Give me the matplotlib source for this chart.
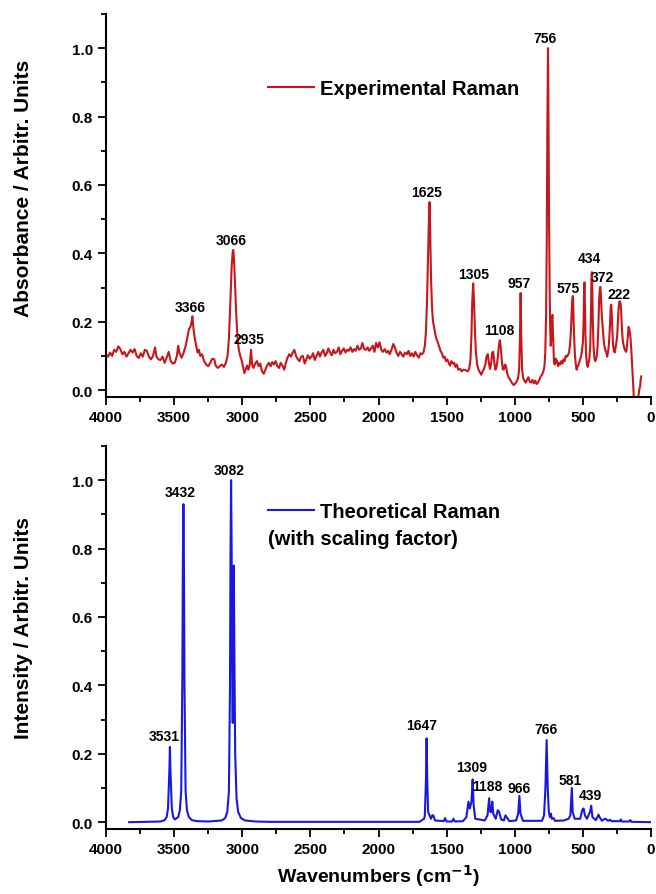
import matplotlib
matplotlib.use("Agg")
import matplotlib.pyplot as plt
from matplotlib.ticker import MultipleLocator, FormatStrFormatter

plt.rcParams['font.family'] = ['Liberation Sans', 'DejaVu Sans']
plt.rcParams['font.weight'] = 'bold'

# experimental Raman spectrum (wavenumber, intensity)
exp_wn = [4000, 3985, 3970, 3955, 3940, 3925, 3910, 3895, 3880, 3865, 3850, 3835, 3820, 3805,
          3790, 3775, 3760, 3745, 3730, 3715, 3700, 3685, 3670, 3655, 3640, 3630, 3615, 3600,
          3585, 3570, 3555, 3540, 3525, 3510, 3495, 3480, 3470, 3460, 3445, 3430, 3415, 3400,
          3390, 3380, 3372, 3366, 3358, 3348, 3338, 3328, 3318, 3308, 3295, 3280, 3265, 3250,
          3235, 3220, 3205, 3195, 3180, 3165, 3150, 3135, 3120, 3108, 3098, 3088, 3078, 3070,
          3066, 3060, 3052, 3044, 3036, 3026, 3015, 3005, 2995, 2985, 2975, 2965, 2955, 2945,
          2935, 2928, 2918, 2905, 2892, 2880, 2868, 2855, 2842, 2830, 2818, 2805, 2792, 2780,
          2768, 2755, 2742, 2730, 2718, 2705, 2692, 2680, 2668, 2655, 2642, 2630, 2618, 2605,
          2592, 2580, 2568, 2555, 2542, 2530, 2518, 2505, 2492, 2480, 2468, 2455, 2442, 2430,
          2418, 2405, 2392, 2380, 2368, 2355, 2342, 2330, 2318, 2305, 2292, 2280, 2268, 2255,
          2242, 2230, 2218, 2205, 2192, 2180, 2168, 2155, 2142, 2130, 2118, 2105, 2092, 2080,
          2068, 2055, 2042, 2030, 2018, 2005, 1992, 1980, 1968, 1955, 1942, 1930, 1918, 1905,
          1892, 1880, 1868, 1855, 1842, 1830, 1818, 1805, 1792, 1780, 1768, 1755, 1742, 1730,
          1718, 1705, 1692, 1680, 1670, 1660, 1652, 1644, 1636, 1630, 1625, 1620, 1614, 1607,
          1600, 1592, 1584, 1575, 1565, 1555, 1545, 1535, 1525, 1515, 1505, 1495, 1485, 1475,
          1465, 1455, 1445, 1435, 1425, 1415, 1400, 1390, 1375, 1360, 1345, 1335, 1325, 1318,
          1312, 1305, 1299, 1292, 1285, 1276, 1266, 1256, 1246, 1236, 1226, 1216, 1206, 1198,
          1190, 1182, 1174, 1166, 1158, 1150, 1142, 1134, 1126, 1118, 1110, 1104, 1096, 1088,
          1080, 1072, 1064, 1056, 1046, 1036, 1026, 1016, 1006, 996, 986, 976, 968, 962,
          957, 952, 946, 938, 930, 920, 910, 900, 890, 880, 870, 860, 850, 840,
          830, 820, 810, 800, 790, 782, 776, 770, 765, 761, 757, 756, 754, 751,
          748, 744, 740, 736, 732, 728, 724, 720, 716, 712, 706, 698, 690, 682,
          674, 666, 658, 650, 642, 634, 626, 618, 610, 602, 595, 588, 582, 577,
          573, 569, 564, 558, 552, 546, 540, 532, 524, 516, 508, 500, 495, 491,
          488, 485, 481, 476, 470, 464, 458, 452, 446, 441, 437, 434, 431, 427,
          422, 416, 410, 404, 398, 392, 386, 381, 376, 372, 368, 363, 358, 352,
          346, 340, 334, 328, 322, 316, 310, 305, 300, 296, 292, 288, 283, 278,
          272, 266, 260, 254, 248, 243, 238, 233, 228, 222, 217, 212, 206, 200,
          194, 188, 182, 176, 170, 165, 160, 155, 150, 145, 140, 135, 130, 125,
          120, 115, 110, 105, 100, 95, 90, 85, 80, 76, 72]
exp_int = [0.104, 0.098, 0.110, 0.100, 0.118, 0.112, 0.128, 0.120, 0.105, 0.112, 0.098, 0.108, 0.118, 0.110,
           0.120, 0.100, 0.094, 0.108, 0.098, 0.118, 0.115, 0.098, 0.090, 0.100, 0.125, 0.098, 0.090, 0.088,
           0.098, 0.080, 0.095, 0.112, 0.085, 0.078, 0.080, 0.100, 0.130, 0.108, 0.095, 0.110, 0.130, 0.160,
           0.180, 0.185, 0.200, 0.216, 0.180, 0.150, 0.130, 0.110, 0.118, 0.100, 0.105, 0.085, 0.075, 0.070,
           0.080, 0.092, 0.090, 0.072, 0.065, 0.070, 0.075, 0.068, 0.080, 0.100, 0.150, 0.250, 0.360, 0.405,
           0.410, 0.380, 0.300, 0.220, 0.160, 0.120, 0.100, 0.088, 0.070, 0.050, 0.060, 0.072, 0.060, 0.075,
           0.118, 0.075, 0.065, 0.078, 0.085, 0.070, 0.078, 0.055, 0.048, 0.060, 0.072, 0.080, 0.070, 0.082,
           0.075, 0.085, 0.070, 0.065, 0.080, 0.072, 0.060, 0.080, 0.095, 0.105, 0.098, 0.110, 0.118, 0.100,
           0.090, 0.085, 0.098, 0.100, 0.078, 0.090, 0.102, 0.092, 0.098, 0.108, 0.088, 0.100, 0.112, 0.098,
           0.110, 0.118, 0.100, 0.108, 0.122, 0.110, 0.102, 0.118, 0.108, 0.112, 0.125, 0.105, 0.115, 0.122,
           0.110, 0.118, 0.115, 0.125, 0.112, 0.120, 0.115, 0.130, 0.118, 0.122, 0.138, 0.120, 0.118, 0.125,
           0.115, 0.122, 0.130, 0.112, 0.138, 0.125, 0.140, 0.118, 0.112, 0.120, 0.110, 0.115, 0.105, 0.118,
           0.135, 0.125, 0.110, 0.100, 0.112, 0.105, 0.098, 0.110, 0.105, 0.115, 0.100, 0.108, 0.098, 0.112,
           0.102, 0.095, 0.108, 0.105, 0.110, 0.130, 0.170, 0.260, 0.400, 0.500, 0.550, 0.450, 0.320, 0.240,
           0.200, 0.185, 0.165, 0.150, 0.140, 0.128, 0.115, 0.108, 0.095, 0.098, 0.085, 0.090, 0.080, 0.072,
           0.085, 0.078, 0.080, 0.068, 0.075, 0.060, 0.062, 0.055, 0.060, 0.058, 0.055, 0.062, 0.090, 0.160,
           0.260, 0.312, 0.260, 0.170, 0.110, 0.075, 0.060, 0.052, 0.045, 0.055, 0.062, 0.075, 0.100, 0.105,
           0.080, 0.062, 0.075, 0.110, 0.112, 0.080, 0.060, 0.068, 0.090, 0.125, 0.146, 0.130, 0.090, 0.062,
           0.060, 0.075, 0.070, 0.050, 0.038, 0.032, 0.025, 0.018, 0.015, 0.020, 0.025, 0.035, 0.060, 0.150,
           0.284, 0.150, 0.060, 0.035, 0.028, 0.022, 0.030, 0.038, 0.025, 0.022, 0.030, 0.020, 0.028, 0.018,
           0.022, 0.030, 0.040, 0.045, 0.055, 0.070, 0.110, 0.220, 0.450, 0.760, 0.950, 1.000, 0.900, 0.700,
           0.480, 0.300, 0.180, 0.130, 0.150, 0.200, 0.220, 0.170, 0.110, 0.080, 0.075, 0.092, 0.085, 0.070,
           0.080, 0.075, 0.085, 0.078, 0.090, 0.085, 0.100, 0.098, 0.102, 0.110, 0.130, 0.170, 0.230, 0.270,
           0.275, 0.220, 0.150, 0.100, 0.075, 0.060, 0.068, 0.075, 0.085, 0.095, 0.110, 0.140, 0.200, 0.300,
           0.315, 0.250, 0.160, 0.100, 0.075, 0.068, 0.080, 0.095, 0.130, 0.220, 0.330, 0.345, 0.300, 0.200,
           0.130, 0.095, 0.085, 0.090, 0.100, 0.130, 0.190, 0.260, 0.295, 0.302, 0.280, 0.230, 0.200, 0.170,
           0.140, 0.125, 0.115, 0.110, 0.098, 0.110, 0.130, 0.160, 0.200, 0.245, 0.250, 0.220, 0.170, 0.130,
           0.115, 0.110, 0.125, 0.140, 0.160, 0.200, 0.240, 0.258, 0.260, 0.250, 0.210, 0.170, 0.140, 0.130,
           0.120, 0.115, 0.112, 0.130, 0.160, 0.185, 0.180, 0.170, 0.150, 0.120, 0.085, 0.050, 0.010, -0.030,
           -0.060, -0.070, -0.060, -0.040, -0.020, -0.025, -0.010, 0.005, 0.010, 0.030, 0.040]

# theoretical (scaled) Raman spectrum
th_wn = [3830, 3600, 3570, 3555, 3545, 3535, 3531, 3527, 3517, 3507, 3495, 3470, 3458, 3448,
         3440, 3436, 3432, 3428, 3424, 3416, 3406, 3392, 3370, 3330, 3250, 3150, 3125, 3110,
         3098, 3090, 3086, 3082, 3078, 3074, 3070, 3066, 3062, 3058, 3052, 3042, 3030, 3010,
         2980, 2900, 2800, 1700, 1665, 1660, 1652, 1647, 1642, 1636, 1615, 1605, 1598, 1585,
         1520, 1512, 1500, 1460, 1450, 1440, 1380, 1355, 1340, 1330, 1318, 1309, 1302, 1290,
         1220, 1200, 1188, 1180, 1172, 1165, 1158, 1140, 1125, 1115, 1100, 1080, 1068, 1060,
         1040, 990, 975, 966, 958, 940, 800, 785, 775, 766, 758, 750, 742, 735,
         728, 715, 705, 640, 605, 592, 581, 575, 560, 520, 505, 495, 485, 470,
         448, 439, 430, 405, 385, 378, 360, 340, 330, 315, 300, 290, 230, 222,
         214, 160, 152, 144, 0]
th_int = [0.0, 0.002, 0.006, 0.015, 0.04, 0.15, 0.22, 0.15, 0.04, 0.015, 0.008, 0.015, 0.035, 0.09,
          0.4, 0.75, 0.93, 0.75, 0.4, 0.09, 0.035, 0.015, 0.006, 0.003, 0.002, 0.005, 0.012, 0.03,
          0.09, 0.4, 0.8, 1.0, 0.8, 0.45, 0.29, 0.5, 0.75, 0.5, 0.2, 0.07, 0.03, 0.012,
          0.005, 0.002, 0.001, 0.001, 0.01, 0.02, 0.12, 0.245, 0.12, 0.03, 0.01, 0.02, 0.02, 0.005,
          0.003, 0.012, 0.002, 0.002, 0.01, 0.002, 0.003, 0.015, 0.06, 0.04, 0.06, 0.125, 0.05, 0.01,
          0.005, 0.02, 0.07, 0.03, 0.03, 0.06, 0.025, 0.01, 0.035, 0.03, 0.008, 0.005, 0.02, 0.015,
          0.003, 0.005, 0.025, 0.077, 0.025, 0.004, 0.004, 0.02, 0.1, 0.24, 0.1, 0.03, 0.015, 0.025,
          0.01, 0.012, 0.004, 0.005, 0.01, 0.02, 0.1, 0.03, 0.01, 0.01, 0.035, 0.04, 0.02, 0.01,
          0.03, 0.048, 0.015, 0.006, 0.022, 0.015, 0.004, 0.01, 0.009, 0.004, 0.007, 0.003, 0.003, 0.008,
          0.002, 0.002, 0.006, 0.001, 0.0]

# peak labels: text, label x, label y
exp_labels = ['3366', '3066', '2935', '1625', '1305', '1108', '957', '756', '575', '434', '372', '222']
exp_lab_x = [3385, 3084, 2950, 1647, 1303, 1116, 971, 776, 611, 452, 355, 237]
exp_lab_y = [0.242, 0.44, 0.151, 0.578, 0.341, 0.175, 0.314, 1.031, 0.30, 0.387, 0.33, 0.281]

th_labels = ['3531', '3432', '3082', '1647', '1309', '1188', '966', '766', '581', '439']
th_lab_x = [3573, 3455, 3093, 1683, 1320, 1200, 969, 773, 595, 444]
th_lab_y = [0.253, 0.964, 1.03, 0.284, 0.16, 0.106, 0.10, 0.272, 0.124, 0.08]

RED = '#C8161B'
BLUE = '#1818E0'

fig = plt.figure(figsize=(6.56, 8.95), dpi=100)
ax1 = fig.add_axes([0.1616, 0.5553, 0.8308, 0.428])
ax2 = fig.add_axes([0.1616, 0.0726, 0.8308, 0.428])

ax1.plot(exp_wn, exp_int, color=RED, lw=1.5, label='Experimental Raman')
ax2.plot(th_wn, th_int, color=BLUE, lw=1.5, label='Theoretical Raman')

for t, x, y in zip(exp_labels, exp_lab_x, exp_lab_y):
    ax1.text(x, y, t, ha='center', va='center', fontsize=10, fontweight='bold')
for t, x, y in zip(th_labels, th_lab_x, th_lab_y):
    ax2.text(x, y, t, ha='center', va='center', fontsize=10, fontweight='bold')

for ax in (ax1, ax2):
    ax.set_xlim(4000, 0)
    ax.set_ylim(-0.02, 1.1)
    ax.spines['top'].set_visible(False)
    ax.spines['right'].set_visible(False)
    for s in ('left', 'bottom'):
        ax.spines[s].set_linewidth(1.5)
    ax.xaxis.set_major_locator(MultipleLocator(500))
    ax.xaxis.set_minor_locator(MultipleLocator(250))
    ax.yaxis.set_major_locator(MultipleLocator(0.2))
    ax.yaxis.set_minor_locator(MultipleLocator(0.1))
    ax.yaxis.set_major_formatter(FormatStrFormatter('%.1f'))
    ax.tick_params(which='major', direction='out', length=6, width=1.3, labelsize=11)
    ax.tick_params(which='minor', direction='out', length=3.5, width=1.3)
    for lab in ax.get_xticklabels() + ax.get_yticklabels():
        lab.set_fontweight('bold')

ax1.legend(loc='center left', bbox_to_anchor=(0.297, 0.806), frameon=False,
           borderpad=0, borderaxespad=0, handlelength=2.3, handletextpad=0.3,
           prop={'size': 14.5, 'weight': 'bold'})
ax2.legend(loc='center left', bbox_to_anchor=(0.297, 0.828), frameon=False,
           borderpad=0, borderaxespad=0, handlelength=2.3, handletextpad=0.3,
           prop={'size': 14.5, 'weight': 'bold'})
ax2.text(0.297, 0.758, '(with scaling factor)', transform=ax2.transAxes,
         ha='left', va='center', fontsize=14.5, fontweight='bold')

ax1.set_ylabel('Absorbance / Arbitr. Units', fontsize=15, fontweight='bold')
ax2.set_ylabel('Intensity / Arbitr. Units', fontsize=15, fontweight='bold')
ax1.yaxis.set_label_coords(-0.134, 0.548)
ax2.yaxis.set_label_coords(-0.134, 0.527)
ax2.set_xlabel('Wavenumbers (cm$^{\\mathbf{-1}}$)', fontsize=14, fontweight='bold')

fig.savefig('out.png', dpi=100)
